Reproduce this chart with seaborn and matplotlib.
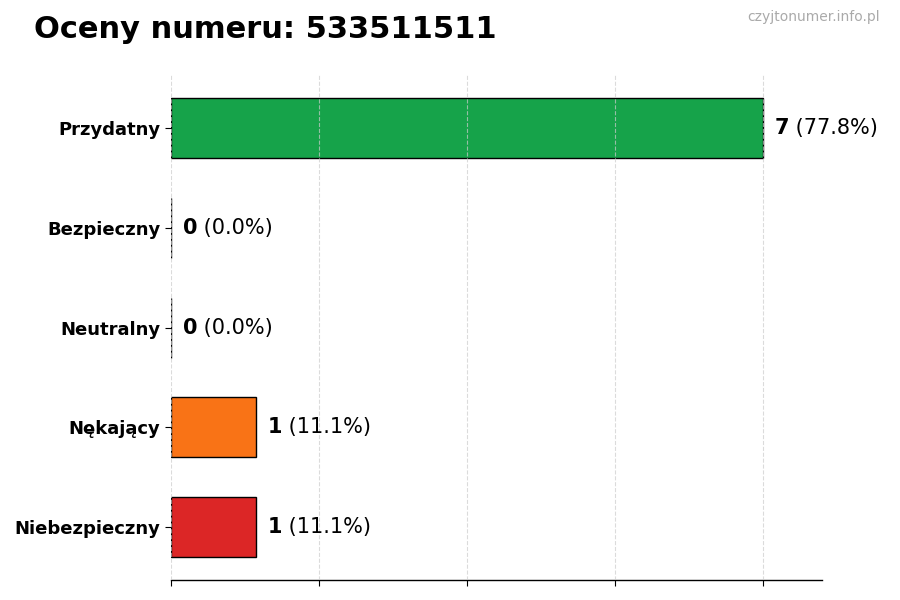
import matplotlib
matplotlib.use("Agg")
import matplotlib.pyplot as plt
import seaborn as sns
import pandas as pd

categories = ["Przydatny", "Bezpieczny", "Neutralny", "Nękający", "Niebezpieczny"]
counts = [7, 0, 0, 1, 1]
colors = ["#16a34a", "#22c55e", "#9ca3af", "#f97316", "#dc2626"]
title = "Oceny numeru: 533511511"
watermark = "czyjtonumer.info.pl"

sns.set_theme(style="white")
plt.rcParams["font.family"] = ["DejaVu Sans"]
plt.rcParams["text.color"] = "black"
plt.rcParams["axes.labelcolor"] = "black"
plt.rcParams["xtick.color"] = "black"
plt.rcParams["ytick.color"] = "black"

total = sum(counts)
df = pd.DataFrame({"cat": categories, "count": counts})

fig = plt.figure(figsize=(9, 6), dpi=100)
ax = fig.add_axes([0.19, 0.033, 0.723, 0.842])
sns.barplot(data=df, y="cat", x="count", hue="cat", palette=colors, legend=False,
            orient="h", width=0.6, edgecolor="black", linewidth=1, saturation=1,
            ax=ax, zorder=2)

ax.set_xlim(0, max(counts) * 1.1)
ax.set_ylim(len(categories) - 0.47, -0.53)
ax.set_xticks([max(counts) * i / 4 for i in range(5)])
ax.set_xticklabels([])
ax.xaxis.grid(True, linestyle="--", color="#cccccc", linewidth=0.8, alpha=0.7)
ax.set_axisbelow(False)
ax.tick_params(axis="both", which="both", length=4, width=0.8, color="black",
               direction="out", bottom=True, left=True)
for lab in ax.get_yticklabels():
    lab.set_fontweight("bold")
    lab.set_fontsize(13)
    lab.set_color("black")
ax.set_xlabel("")
ax.set_ylabel("")
for s in ["top", "right", "left"]:
    ax.spines[s].set_visible(False)
ax.spines["bottom"].set_color("black")
ax.spines["bottom"].set_linewidth(1)

for i, c in enumerate(counts):
    pct = c / total * 100
    t = ax.text(c + 0.14, i, f"{c}", fontsize=15, fontweight="bold", va="center",
                ha="left", color="black")
    ax.annotate(f" ({pct:.1f}%)", xycoords=t, xy=(1, 0.5), va="center", ha="left",
                fontsize=15, color="black")

fig.text(0.038, 0.95, title, fontsize=22, fontweight="bold", ha="left", va="center",
         color="black")
fig.text(0.978, 0.972, watermark, fontsize=10, color="#aaaaaa", ha="right", va="center")

fig.savefig("out.png", dpi=100)
